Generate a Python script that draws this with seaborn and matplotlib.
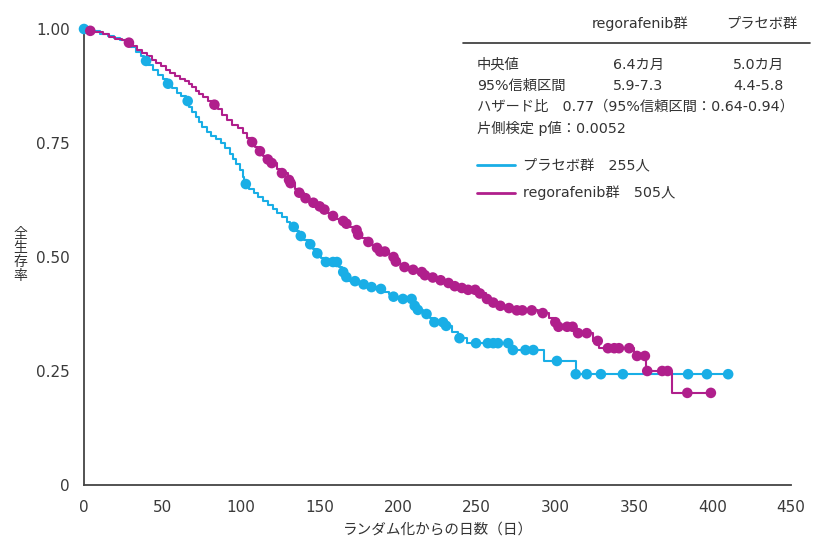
import numpy as np
import pandas as pd
import matplotlib
matplotlib.use("Agg")
import matplotlib.pyplot as plt
from matplotlib.lines import Line2D
import seaborn as sns

# Kaplan-Meier step data: event day and survival just after that event
placebo_times = [5, 10, 15, 19, 23, 27, 30, 33, 36, 38, 41, 44, 47, 50, 53, 56, 59, 62, 65, 67,
                 69, 71, 73, 75, 78, 81, 84, 87, 90, 93, 95, 97, 99, 101, 102, 105, 108, 111, 114, 117,
                 120, 123, 126, 129, 131, 135, 137, 140, 143, 146, 148, 151, 153, 162, 164, 166, 168, 175, 181, 186,
                 191, 194, 197, 201, 210, 212, 216, 220, 222, 230, 234, 238, 244, 272, 293, 313]
placebo_surv = [0.995, 0.99, 0.985, 0.98, 0.975, 0.969, 0.96, 0.95, 0.94, 0.93, 0.92, 0.91, 0.90, 0.89, 0.88, 0.87, 0.86, 0.852, 0.842, 0.83,
                0.818, 0.806, 0.795, 0.785, 0.775, 0.766, 0.758, 0.75, 0.738, 0.726, 0.715, 0.703, 0.69, 0.675, 0.66, 0.65, 0.641, 0.632, 0.623, 0.614,
                0.605, 0.597, 0.588, 0.577, 0.566, 0.556, 0.546, 0.537, 0.528, 0.518, 0.508, 0.498, 0.489, 0.478, 0.467, 0.456, 0.447, 0.44, 0.434, 0.43,
                0.424, 0.418, 0.413, 0.408, 0.393, 0.384, 0.375, 0.366, 0.357, 0.349, 0.336, 0.322, 0.311, 0.296, 0.272, 0.243]
placebo_censor = [0, 39.5, 53.5, 66, 103, 133.5, 138, 144, 148.5, 154, 158.5, 161, 165, 167, 172.5, 178, 183, 189, 197, 203,
                  208.5, 210.5, 212.5, 218, 223, 228.5, 230.5, 239, 249.5, 257, 260.5, 263.5, 270, 273, 281, 286, 301, 313, 320, 329,
                  343, 384.5, 396.5, 410]
placebo_end = 411

rego_times = [2, 6, 12, 16, 20, 24, 28, 31, 34, 37, 40, 43, 46, 49, 52, 55, 58, 61, 64, 67,
              69, 71, 73, 76, 79, 82, 85, 88, 91, 94, 98, 101, 104, 106, 109, 111, 114, 117, 119, 123,
              125, 130, 131, 134, 136, 140, 142, 145, 148, 151, 154, 157, 160, 163, 166, 169, 172, 174, 177, 180,
              183, 186, 188, 192, 195, 198, 201, 203, 207, 212, 216, 220, 225, 230, 234, 240, 244, 250, 256, 260,
              263, 266, 274, 289, 296, 299, 301, 313, 324, 328, 350, 358, 374]
rego_surv = [0.996, 0.993, 0.988, 0.983, 0.978, 0.975, 0.97, 0.962, 0.955, 0.947, 0.941, 0.933, 0.925, 0.918, 0.911, 0.904, 0.897, 0.891, 0.886, 0.88,
             0.872, 0.864, 0.857, 0.85, 0.842, 0.834, 0.824, 0.812, 0.80, 0.79, 0.782, 0.772, 0.762, 0.752, 0.742, 0.732, 0.722, 0.714, 0.706, 0.694,
             0.684, 0.669, 0.662, 0.65, 0.641, 0.629, 0.624, 0.619, 0.611, 0.604, 0.597, 0.59, 0.584, 0.579, 0.573, 0.566, 0.559, 0.549, 0.541, 0.533,
             0.527, 0.52, 0.512, 0.506, 0.50, 0.49, 0.484, 0.478, 0.472, 0.467, 0.46, 0.455, 0.449, 0.443, 0.436, 0.432, 0.428, 0.42, 0.408, 0.40,
             0.393, 0.388, 0.383, 0.377, 0.366, 0.357, 0.347, 0.333, 0.316, 0.30, 0.283, 0.25, 0.202]
rego_censor = [4, 28.6, 83, 107, 112, 117, 119.5, 126, 130.5, 131.5, 137, 141, 146, 150, 153, 158.5, 165, 167, 173.5, 174.5,
               181, 186.5, 188.5, 191.5, 197, 198.5, 204, 209.5, 215, 217, 222, 227, 232, 236, 240.5, 244.5, 249, 252, 256.5, 260.5,
               265, 270.5, 275.5, 279, 285, 292, 300, 302, 307.5, 311, 314.5, 320, 327, 333.5, 337.5, 340.5, 347, 352, 357, 358.5,
               368, 371.5, 384, 399]
rego_end = 399

x_ticks = [0, 50, 100, 150, 200, 250, 300, 350, 400, 450]
y_ticks = [0, 0.25, 0.5, 0.75, 1.0]
y_tick_labels = ["0", "0.25", "0.50", "0.75", "1.00"]

BLUE = "#19aee6"
MAGENTA = "#b01f8c"
TEXT = "#333333"


def step_frame(times, surv, end):
    t = [0] + list(times) + [end]
    s = [1.0] + list(surv) + [surv[-1]]
    return pd.DataFrame({"day": t, "survival": s})


def censor_frame(times, surv, censor):
    t0 = np.array([0] + list(times))
    s0 = np.array([1.0] + list(surv))
    idx = np.searchsorted(t0, np.array(censor), side="right") - 1
    return pd.DataFrame({"day": censor, "survival": s0[idx]})


sns.set_style("white")
plt.rcParams["font.family"] = ["DejaVu Sans", "Noto Sans CJK JP"]

W, H = 813, 541
fig = plt.figure(figsize=(W / 100, H / 100), dpi=100)
ax = fig.add_axes([84 / W, 1 - 485 / H, (791 - 84) / W, (485 - 29) / H])

for times, surv, censor, end, color in [
    (placebo_times, placebo_surv, placebo_censor, placebo_end, BLUE),
    (rego_times, rego_surv, rego_censor, rego_end, MAGENTA),
]:
    sf = step_frame(times, surv, end)
    sns.lineplot(data=sf, x="day", y="survival", ax=ax, color=color, lw=1.5,
                 drawstyle="steps-post", estimator=None, sort=False, clip_on=False)
    cf = censor_frame(times, surv, censor)
    sns.scatterplot(data=cf, x="day", y="survival", ax=ax, color=color, s=58,
                    edgecolor="none", linewidth=0, clip_on=False, zorder=3)

ax.set_xlim(0, 450)
ax.set_ylim(0, 1.0)
ax.set_xticks(x_ticks)
ax.set_xticklabels([str(v) for v in x_ticks])
ax.set_yticks(y_ticks)
ax.set_yticklabels(y_tick_labels)
for side in ("top", "right"):
    ax.spines[side].set_visible(False)
for side in ("left", "bottom"):
    ax.spines[side].set_color("#444444")
    ax.spines[side].set_linewidth(1.3)
ax.tick_params(axis="both", direction="in", colors="#444444", labelcolor="#3a3a3a",
               labelsize=11, width=1.1)
ax.tick_params(axis="x", length=8, pad=11)
ax.tick_params(axis="y", length=6, pad=10)
ax.set_xlabel("ランダム化からの日数（日）", fontsize=10.5, color=TEXT, labelpad=5,
              family=["Noto Sans CJK JP", "DejaVu Sans"])
ax.set_ylabel("")

fig.text(20 / W, 1 - 255 / H, "全\n生\n存\n率", fontsize=10, color=TEXT,
         ha="center", va="center", linespacing=1.0,
         family=["Noto Sans CJK JP", "DejaVu Sans"])

# summary table
def ftext(x, y, s, **kw):
    fig.text(x / W, 1 - y / H, s, fontsize=10.3, color=TEXT, va="center", **kw)

ftext(640, 24, "regorafenib群", ha="center")
ftext(762, 24, "プラセボ群", ha="center")
fig.add_artist(Line2D([463 / W, 810 / W], [1 - 43 / H, 1 - 43 / H], color="#333333", lw=1.2))
ftext(477, 65, "中央値", ha="left")
ftext(613, 65, "6.4カ月", ha="left")
ftext(733, 65, "5.0カ月", ha="left")
ftext(477, 86, "95%信頼区間", ha="left")
ftext(613, 86, "5.9-7.3", ha="left")
ftext(733, 86, "4.4-5.8", ha="left")
ftext(477, 107, "ハザード比　0.77（95%信頼区間：0.64-0.94）", ha="left")
ftext(477, 128, "片側検定 p値：0.0052", ha="left")

fig.add_artist(Line2D([477 / W, 515 / W], [1 - 165 / H, 1 - 165 / H], color=BLUE, lw=2))
ftext(523, 165, "プラセボ群　255人", ha="left")
fig.add_artist(Line2D([477 / W, 515 / W], [1 - 193 / H, 1 - 193 / H], color=MAGENTA, lw=2))
ftext(523, 193, "regorafenib群　505人", ha="left")

fig.savefig("out.png", dpi=100)
